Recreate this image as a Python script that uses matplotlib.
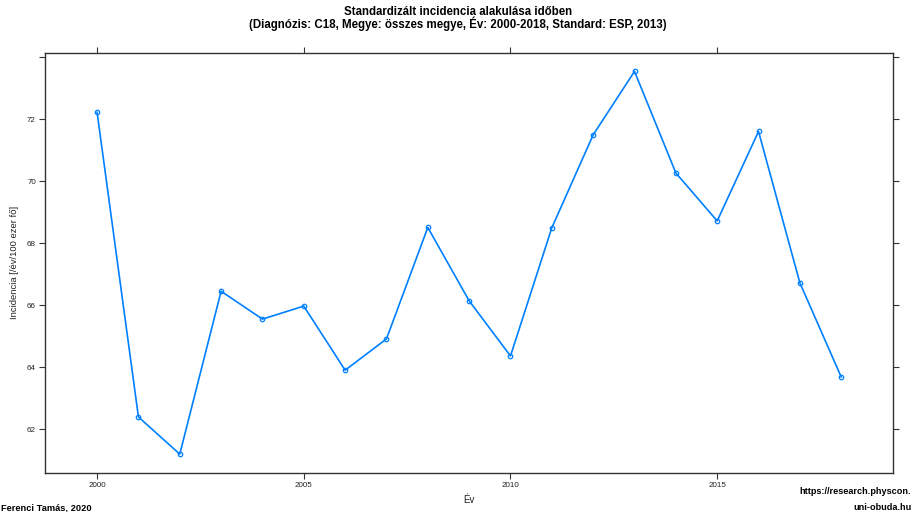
import matplotlib
matplotlib.use("Agg")
import matplotlib.pyplot as plt

years = [2000, 2001, 2002, 2003, 2004, 2005, 2006, 2007, 2008, 2009,
         2010, 2011, 2012, 2013, 2014, 2015, 2016, 2017, 2018]
incidence = [72.23, 62.39, 61.19, 66.45, 65.55, 65.97, 63.90, 64.91, 68.51, 66.14,
             64.36, 68.50, 71.50, 73.55, 70.27, 68.72, 71.61, 66.72, 63.68]
x_ticks = [2000, 2005, 2010, 2015]
y_ticks = [62, 64, 66, 68, 70, 72, 74]
y_tick_labels = ["62", "64", "66", "68", "70", "72", ""]

title_line1 = "Standardizált incidencia alakulása időben"
title_line2 = "(Diagnózis: C18, Megye: összes megye, Év: 2000-2018, Standard: ESP, 2013)"

plt.rcParams['font.family'] = ['Liberation Sans', 'DejaVu Sans']

fig = plt.figure(figsize=(9.16, 5.12), dpi=100)
ax = fig.add_axes([45/916, 1-473/512, (893.3-45)/916, (473-52.5)/512])

col = "#0080ff"
ax.plot(years, incidence, color=col, lw=1.2, marker='o', ms=3.2,
        mfc='none', mec=col, mew=0.9)

ax.set_xlim(1998.74, 2019.26)
ax.set_ylim(60.58, 74.16)

ax.set_xticks(x_ticks)
ax.set_xticklabels([str(v) for v in x_ticks], fontsize=5.8, color='#222222')
ax.set_yticks(y_ticks)
ax.set_yticklabels(y_tick_labels, fontsize=5.8, color='#222222')
ax.tick_params(axis='both', direction='out', length=4, width=0.8, color='#333333',
               top=True, right=True, labeltop=False, labelright=False, pad=2.5)

for s in ax.spines.values():
    s.set_color('#333333')
    s.set_linewidth(1.0)

ax.set_xlabel("Év", fontsize=7, labelpad=4, color='#222222')
ax.set_ylabel("Incidencia [/év/100 ezer fő]", fontsize=6.8, labelpad=6, color='#222222')

fig.text(0.5, 1-12.0/512, title_line1, ha='center', va='center', fontsize=8.3,
         fontweight='bold')
fig.text(0.5, 1-24.0/512, title_line2, ha='center', va='center', fontsize=8.3,
         fontweight='bold')

fig.text(1/916, 1-507.5/512, "Ferenci Tamás, 2020", ha='left', va='center',
         fontsize=6.7, fontweight='bold')
fig.text(911.5/916, 1-492/512, "https://research.physcon.", ha='right', va='center',
         fontsize=6.6, fontweight='bold')
fig.text(911.5/916, 1-507.5/512, "uni-obuda.hu", ha='right', va='center',
         fontsize=6.6, fontweight='bold')

fig.savefig("out.png", dpi=100)
